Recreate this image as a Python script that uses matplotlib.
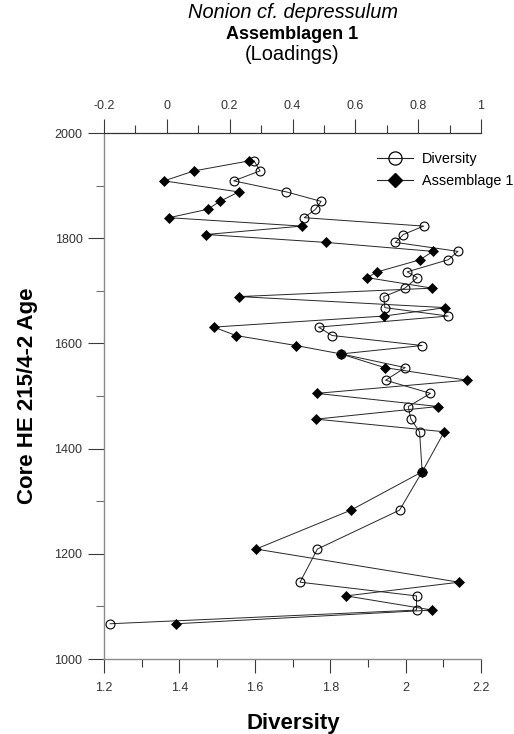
import matplotlib
matplotlib.use("Agg")
import matplotlib.pyplot as plt
from matplotlib.ticker import MultipleLocator, FixedLocator, FixedFormatter
from matplotlib.lines import Line2D

plt.rcParams['font.family'] = ['Liberation Sans', 'DejaVu Sans']

# Core HE 215/4-2: sample ages, diversity index and assemblage 1 loadings
ages = [1947, 1928, 1909, 1888, 1870, 1855, 1839, 1823, 1807, 1792,
        1775, 1759, 1736, 1725, 1705, 1689, 1668, 1652, 1631, 1615,
        1596, 1580, 1554, 1530, 1505, 1480, 1456, 1432, 1356, 1283,
        1209, 1146, 1120, 1093, 1067]
diversity = [1.598, 1.614, 1.544, 1.684, 1.776, 1.761, 1.731, 2.048, 1.994, 1.973,
             2.139, 2.113, 2.004, 2.031, 1.998, 1.942, 1.945, 2.113, 1.769, 1.805,
             2.044, 1.829, 1.999, 1.947, 2.066, 2.007, 2.014, 2.037, 2.044, 1.984,
             1.766, 1.720, 2.029, 2.029, 1.216]
assemblage = [0.262, 0.087, -0.009, 0.229, 0.169, 0.130, 0.007, 0.430, 0.125, 0.506,
              0.847, 0.806, 0.670, 0.638, 0.845, 0.231, 0.887, 0.692, 0.149, 0.220,
              0.411, 0.554, 0.693, 0.956, 0.477, 0.863, 0.475, 0.883, 0.813, 0.586,
              0.284, 0.930, 0.571, 0.845, 0.029]

age_ticks = [1000, 1200, 1400, 1600, 1800, 2000]
diversity_ticks = [1.2, 1.4, 1.6, 1.8, 2.0, 2.2]
diversity_labels = ['1.2', '1.4', '1.6', '1.8', '2', '2.2']
loading_ticks = [-0.2, 0.0, 0.2, 0.4, 0.6, 0.8, 1.0]
loading_labels = ['-0.2', '0', '0.2', '0.4', '0.6', '0.8', '1']

W, H = 514, 734
fig = plt.figure(figsize=(W / 100, H / 100), dpi=100)
ax = fig.add_axes([104 / W, 1 - 659 / H, 377 / W, 526 / H])
ax2 = ax.twiny()

line_col = '#262626'
ax.plot(diversity, ages, color=line_col, lw=0.7, marker='o', ms=6.4,
        mfc='none', mec='black', mew=0.8, zorder=3, clip_on=False)
ax2.plot(assemblage, ages, color=line_col, lw=0.7, marker='D', ms=5.0,
         mfc='black', mec='black', mew=0.5, zorder=3, clip_on=False)

ax.set_xlim(1.2, 2.2)
ax.set_ylim(1000, 2000)
ax2.set_xlim(-0.2, 1.0)

# spines
for s in ['right', 'top']:
    ax.spines[s].set_visible(False)
ax.spines['left'].set_color('#8a8a8a')
ax.spines['bottom'].set_color('#8a8a8a')
ax.spines['left'].set_linewidth(1.0)
ax.spines['bottom'].set_linewidth(1.0)
for s in ['left', 'right', 'bottom']:
    ax2.spines[s].set_visible(False)
ax2.spines['top'].set_color('#333333')
ax2.spines['top'].set_linewidth(0.9)

tick_col = '#3a3a3a'
lab_col = '#333333'

# age axis
ax.yaxis.set_major_locator(FixedLocator(age_ticks))
ax.yaxis.set_minor_locator(MultipleLocator(100))
ax.tick_params(axis='y', which='major', length=11.5, width=0.8, color=tick_col,
               pad=4, labelsize=9, labelcolor=lab_col)
ax.tick_params(axis='y', which='minor', length=5.8, width=0.8, color='#707070')

# diversity axis (bottom)
ax.xaxis.set_major_locator(FixedLocator(diversity_ticks))
ax.xaxis.set_major_formatter(FixedFormatter(diversity_labels))
ax.xaxis.set_minor_locator(MultipleLocator(0.1))
ax.tick_params(axis='x', which='major', length=10, width=0.8, color=tick_col,
               pad=6.5, labelsize=9, labelcolor=lab_col)
ax.tick_params(axis='x', which='minor', length=5.8, width=0.8, color=tick_col)

# loadings axis (top)
ax2.xaxis.set_major_locator(FixedLocator(loading_ticks))
ax2.xaxis.set_major_formatter(FixedFormatter(loading_labels))
ax2.xaxis.set_minor_locator(MultipleLocator(0.1))
ax2.tick_params(axis='x', which='major', length=10, width=0.8, color=tick_col,
                pad=5, labelsize=9, labelcolor=lab_col)
ax2.tick_params(axis='x', which='minor', length=5.8, width=0.8, color=tick_col)

# titles
cx = (104 + 481) / 2 / W
fig.text(cx, 1 - 18 / H, 'Nonion cf. depressulum', style='italic', fontsize=14.4,
         ha='center', va='baseline')
fig.text(cx, 1 - 39 / H, 'Assemblagen 1', weight='bold', fontsize=13,
         ha='center', va='baseline')
fig.text(cx, 1 - 60 / H, '(Loadings)', fontsize=14.4, ha='center', va='baseline')

# axis titles
fig.text(28 / W, 1 - 396 / H, 'Core HE 215/4-2 Age', rotation=90, weight='bold',
         fontsize=16, ha='center', va='center')
fig.text(293.5 / W, 1 - 729 / H, 'Diversity', weight='bold', fontsize=16,
         ha='center', va='baseline')

# legend
h1 = Line2D([], [], color=line_col, lw=0.8, marker='o', ms=9.5, mfc='none',
            mec='black', mew=0.9)
h2 = Line2D([], [], color=line_col, lw=0.8, marker='D', ms=7, mfc='black',
            mec='black')
fig.legend([h1, h2], ['Diversity', 'Assemblage 1'], loc='upper left',
           bbox_to_anchor=(377 / W, 1 - 152 / H), frameon=False, borderpad=0,
           borderaxespad=0, handlelength=2.5, handletextpad=0.6,
           labelspacing=0.55, fontsize=10.4)

fig.savefig('out.png', dpi=100)
